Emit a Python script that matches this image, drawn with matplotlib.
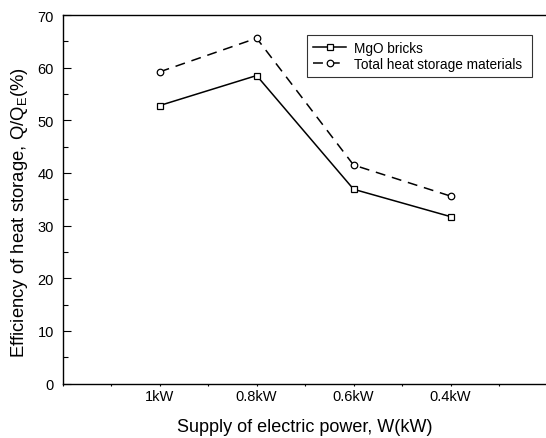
import matplotlib
matplotlib.use("Agg")
import matplotlib.pyplot as plt
from matplotlib.ticker import MultipleLocator, FixedLocator

plt.rcParams['font.family'] = ['Liberation Sans', 'DejaVu Sans']
plt.rcParams['mathtext.fontset'] = 'custom'
plt.rcParams['mathtext.rm'] = 'Liberation Sans'
plt.rcParams['mathtext.it'] = 'Liberation Sans:italic'

categories = ['1kW', '0.8kW', '0.6kW', '0.4kW']
mgo_bricks = [52.8, 58.5, 36.9, 31.7]
total_materials = [59.2, 65.6, 41.5, 35.6]

fig = plt.figure(figsize=(5.46, 4.39), dpi=100)
ax = fig.add_axes([62.7 / 546, 1 - 384.5 / 439, (547.5 - 62.7) / 546, (384.5 - 16) / 439])

x = list(range(1, len(categories) + 1))
ax.plot(x, mgo_bricks, color='black', linewidth=1.1, marker='s', markersize=4.5,
        markerfacecolor='white', markeredgecolor='black', markeredgewidth=0.9,
        label='MgO bricks')
ax.plot(x, total_materials, color='black', linewidth=1.1, linestyle=(0, (6.5, 4.5)),
        marker='o', markersize=4.7, markerfacecolor='white', markeredgecolor='black',
        markeredgewidth=0.9, label='Total heat storage materials')

ax.set_xlim(0, 5)
ax.set_ylim(0, 70)
ax.xaxis.set_major_locator(FixedLocator(x))
ax.set_xticklabels(categories)
ax.xaxis.set_minor_locator(MultipleLocator(0.5))
ax.yaxis.set_major_locator(MultipleLocator(10))
ax.yaxis.set_minor_locator(MultipleLocator(5))

ax.tick_params(axis='x', which='both', direction='out', length=1.5, width=0.8,
               labelsize=10.5, pad=2.8, top=False)
ax.tick_params(axis='y', which='major', direction='in', length=5.8, width=0.8,
               labelsize=10.5, pad=6.3, right=False)
ax.tick_params(axis='y', which='minor', direction='in', length=3.6, width=0.8, right=False)
for s in ax.spines.values():
    s.set_linewidth(1.0)

ax.set_xlabel('Supply of electric power, W(kW)', fontsize=13, labelpad=10.5)
ax.set_ylabel('Efficiency of heat storage, Q/Q$_\\mathrm{E}$(%)', fontsize=13.3)
ax.yaxis.set_label_coords(-0.068, 0.468)

leg = ax.legend(loc='upper left', bbox_to_anchor=(0.5044, 0.835, 0.4646, 0.1107),
                mode='expand', fontsize=9.8, frameon=True, fancybox=False,
                edgecolor='black', handlelength=2.4, handletextpad=0.55,
                labelspacing=0.12, borderpad=0.45, borderaxespad=0.0, numpoints=1)
leg.get_frame().set_linewidth(0.8)

fig.savefig('out.png', dpi=100)
